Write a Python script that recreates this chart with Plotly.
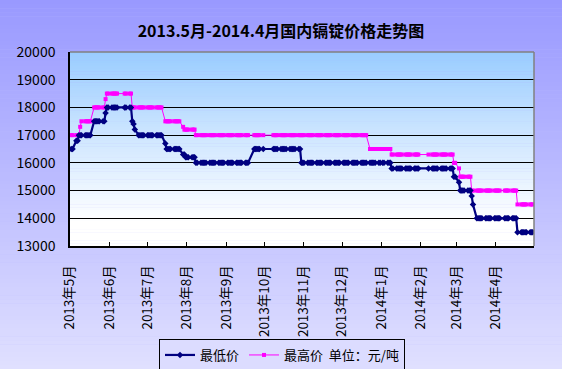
import pandas as pd
import plotly.graph_objects as go

# ---- data (price levels; each level holds until the next change) ----
low_change_dates = ["2013-05-02", "2013-05-06", "2013-05-08", "2013-05-20", "2013-05-29",
                    "2013-05-30", "2013-06-19", "2013-06-20", "2013-06-21", "2013-06-24",
                    "2013-07-15", "2013-07-16", "2013-07-29", "2013-07-31", "2013-08-08",
                    "2013-09-23", "2013-10-30", "2014-01-09", "2014-02-27", "2014-03-03",
                    "2014-03-04", "2014-03-13", "2014-03-14", "2014-03-17", "2014-04-18"]
low_change_values = [16500, 16800, 17000, 17500, 17800,
                     18000, 17500, 17400, 17200, 17000,
                     16700, 16500, 16300, 16200, 16000,
                     16500, 16000, 15800, 15500, 15300,
                     15000, 14800, 14500, 14000, 13500]

high_change_dates = ["2013-05-02", "2013-05-09", "2013-05-10", "2013-05-20", "2013-05-29",
                     "2013-05-30", "2013-06-19", "2013-07-15", "2013-07-29", "2013-07-30",
                     "2013-08-08", "2013-12-23", "2014-01-09", "2014-02-27", "2014-03-03",
                     "2014-03-04", "2014-03-13", "2014-04-18"]
high_change_values = [17000, 17300, 17500, 18000, 18300,
                      18500, 18000, 17500, 17300, 17200,
                      17000, 16500, 16300, 16000, 15800,
                      15500, 15000, 14500]

holidays = ["2013-06-10", "2013-06-11", "2013-06-12", "2013-09-19", "2013-09-20",
            "2013-10-01", "2013-10-02", "2013-10-03", "2013-10-04", "2013-10-07",
            "2014-01-01", "2014-01-31", "2014-02-03", "2014-02-04", "2014-02-05",
            "2014-02-06", "2014-04-07"]
first_day = "2013-05-02"
last_day = "2014-04-30"

tick_dates = ["2013-05-01", "2013-06-01", "2013-07-01", "2013-08-01", "2013-09-01",
              "2013-10-01", "2013-11-01", "2013-12-01", "2014-01-01", "2014-02-01",
              "2014-03-01", "2014-04-01"]
tick_labels = ["2013年5月", "2013年6月", "2013年7月", "2013年8月", "2013年9月",
               "2013年10月", "2013年11月", "2013年12月", "2014年1月", "2014年2月",
               "2014年3月", "2014年4月"]

title_text = "2013.5月-2014.4月国内镉锭价格走势图"
name_low = "最低价"
name_high = "最高价\u00a0\u00a0单位：元/吨"

# trading days, each carrying the level posted most recently
days = pd.bdate_range(first_day, last_day)
days = days[~days.isin(pd.to_datetime(holidays))]


def daily(change_dates, change_values):
    s = pd.Series(change_values, index=pd.to_datetime(change_dates))
    return s.reindex(days, method="ffill")


low = daily(low_change_dates, low_change_values)
high = daily(high_change_dates, high_change_values)

W, H = 562, 369
ML, MR, MT, MB = 70, 28, 52, 123
PW, PH = W - ML - MR, H - MT - MB


def hexrgb(h):
    h = h.lstrip("#")
    return tuple(int(h[i:i + 2], 16) for i in (0, 2, 4))


def color_at(stops, t):
    for (o0, c0), (o1, c1) in zip(stops, stops[1:]):
        if o0 <= t <= o1:
            f = 0 if o1 == o0 else (t - o0) / (o1 - o0)
            a, b = hexrgb(c0), hexrgb(c1)
            return "rgb(%d,%d,%d)" % tuple(round(a[i] + (b[i] - a[i]) * f) for i in range(3))
    return stops[-1][1]


def bands(y_top, y_bot, x0, x1, stops, n):
    out = []
    for i in range(n):
        ya = y_top + (y_bot - y_top) * i / n
        yb = y_top + (y_bot - y_top) * (i + 1) / n
        out.append(dict(type="rect", xref="paper", yref="paper", x0=x0, x1=x1,
                        y0=yb - 0.002, y1=ya, layer="below", line=dict(width=0),
                        fillcolor=color_at(stops, (i + 0.5) / n)))
    return out


paper_stops = [(0, "#9999FF"), (1, "#E0E0FF")]
plot_stops = [(0, "#99CCFF"), (0.5, "#D6EAFF"), (0.88, "#FFFFFF"), (1, "#FFFFFF")]

shapes = []
shapes += bands(1 + MT / PH, -MB / PH, -ML / PW, 1 + MR / PW, paper_stops, 90)
shapes += bands(1, 0, 0, 1, plot_stops, 70)
shapes += [
    dict(type="line", xref="paper", yref="paper", x0=0, x1=1, y0=1, y1=1,
         line=dict(color="#808080", width=1.5)),
    dict(type="line", xref="paper", yref="paper", x0=1, x1=1, y0=0, y1=1,
         line=dict(color="#808080", width=1.5)),
]

fig = go.Figure()
fig.add_trace(go.Scatter(
    x=high.index, y=high.values, name=name_high, mode="lines+markers",
    line=dict(color="#FF00FF", width=1),
    marker=dict(symbol="square", size=4, color="#FF00FF"),
))
fig.add_trace(go.Scatter(
    x=low.index, y=low.values, name=name_low, mode="lines+markers",
    line=dict(color="#000080", width=2.2),
    marker=dict(symbol="diamond", size=5, color="#000080"),
))

font = "Noto Sans CJK SC"
fig.update_layout(
    width=W, height=H,
    margin=dict(l=ML, r=MR, t=MT, b=MB),
    paper_bgcolor="#BBBBFF",
    plot_bgcolor="rgba(0,0,0,0)",
    font=dict(family=font, color="black", size=12),
    title=dict(text=f"<b>{title_text}</b>", x=0.5, xanchor="center",
               y=1 - 31 / H, yanchor="middle", font=dict(size=16, family=font)),
    showlegend=True,
    legend=dict(orientation="h", traceorder="reversed",
                xref="container", yref="container",
                x=282 / W, xanchor="center", y=1 - 339 / H, yanchor="top",
                bgcolor="#DCDCFF", bordercolor="black", borderwidth=1,
                font=dict(size=13, family=font), itemwidth=30,
                tracegroupgap=0),
    shapes=shapes,
)

fig.update_xaxes(
    type="date", range=["2013-05-01", "2014-05-01"],
    tickmode="array", tickvals=tick_dates, ticktext=tick_labels,
    tickangle=-90, ticks="inside", ticklen=4, tickcolor="black", tickwidth=1,
    ticklabelstandoff=12, automargin=False,
    showgrid=False, zeroline=False,
    showline=True, linecolor="black", linewidth=1.5,
    tickfont=dict(size=13.5, family=font, color="black"),
)
fig.update_yaxes(
    range=[13000, 20000], dtick=1000, tick0=13000,
    showgrid=True, gridcolor="black", gridwidth=1,
    ticks="", ticklabelstandoff=10, automargin=False,
    zeroline=False, showline=True, linecolor="black", linewidth=1.5,
    tickfont=dict(size=14, family=font, color="black"),
    tickformat="d",
)

fig.write_html("out.html", config={"displayModeBar": False},
               post_script="document.body.style.margin='0';document.body.style.padding='0';")
